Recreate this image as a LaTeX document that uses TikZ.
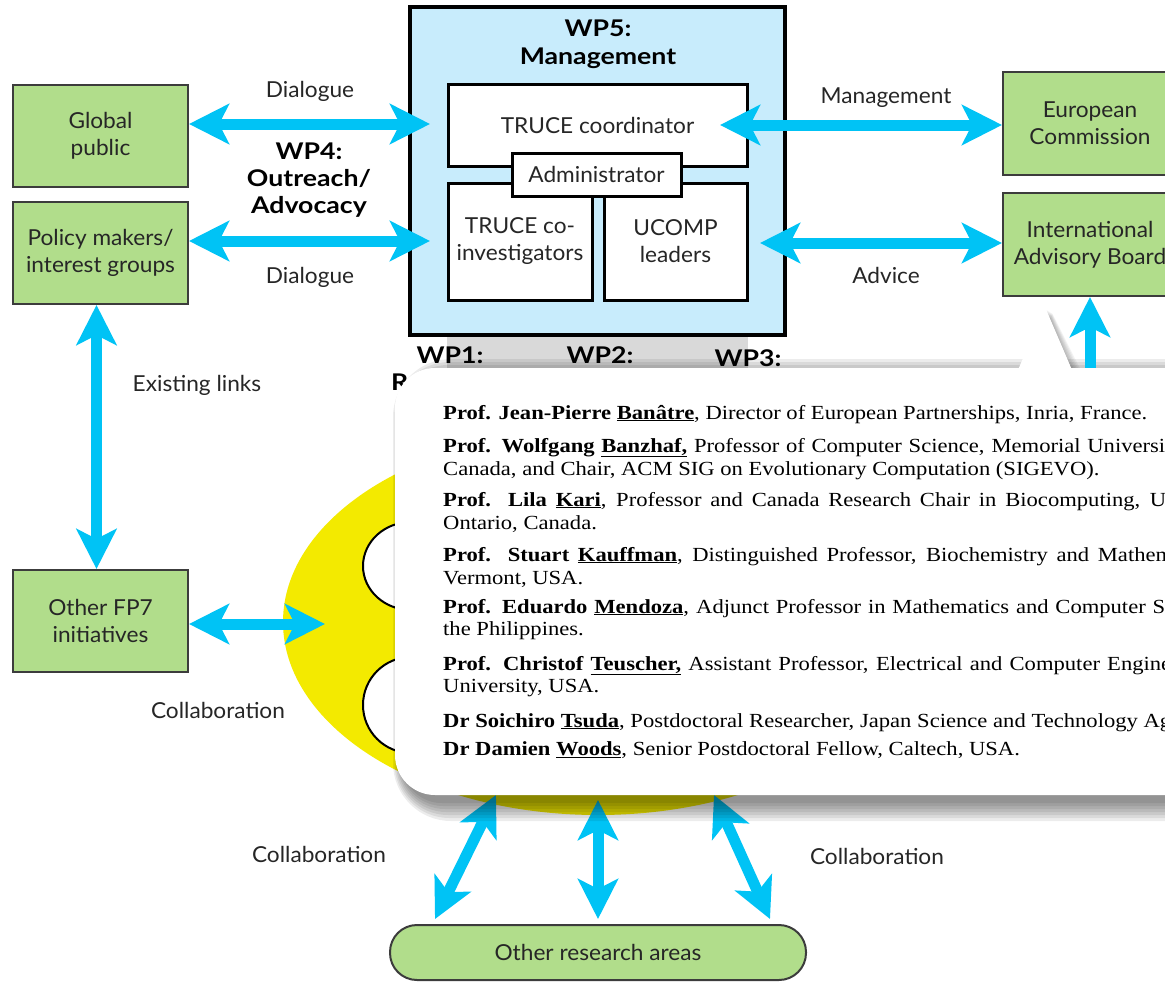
\documentclass[tikz,border=0pt]{standalone}
\usepackage{fontspec}
\setmainfont{Lato}[FakeStretch=1.03]
\newfontfamily\wpfont{Lato}[FakeStretch=1.16]
\newfontfamily\calloutfont[FakeStretch=1.13]{Liberation Serif}
\usetikzlibrary{arrows.meta,shapes.geometric}
\definecolor{boxgreen}{RGB}{177,221,139}
\definecolor{wpblue}{RGB}{200,236,252}
\definecolor{arrowblue}{RGB}{0,195,245}
\definecolor{wpyellow}{RGB}{243,234,0}
\definecolor{boxline}{RGB}{60,60,60}
\newcommand{\diagsize}{\fontsize{22}{27}\selectfont}
\newcommand{\wpsize}{\wpfont\bfseries\fontsize{23}{27}\selectfont}
\newcommand{\biosize}{\calloutfont\fontsize{20}{23}\selectfont}
\newcommand{\surn}[1]{\underline{#1}}
\newcommand{\jline}[2]{\makebox[#1pt][s]{#2}}
\tikzset{basic/.style={align=center,inner sep=0pt,font=\diagsize,text=black!85}}
\tikzset{greenbox/.style={basic,draw=boxline,line width=2pt,fill=boxgreen,
                          minimum width=175pt,minimum height=102pt}}
\tikzset{whitebox/.style={basic,draw=black,line width=3pt,fill=white}}
\tikzset{lbl/.style={basic,anchor=base}}
\tikzset{wplbl/.style={lbl,font=\wpsize,text=black}}
\tikzset{bio/.style={inner sep=0pt,anchor=base west,font=\biosize}}
\tikzset{biarrow/.style={draw=arrowblue,line width=11pt,
   {Stealth[length=40pt,width=40pt,inset=10pt]}-{Stealth[length=40pt,width=40pt,inset=10pt]}}}
\begin{document}
\begin{tikzpicture}[x=1pt,y=-1pt]
    \useasboundingbox (0,0) rectangle (1165,982);
    \clip (0,0) rectangle (1165,982);
    \fill[white] (0,0) rectangle (1165,982);

    % collaboration area
    \node[ellipse,fill=wpyellow,minimum width=630pt,minimum height=386pt] (yel) at (598,622) {};
    \node[ellipse,draw=black,line width=2pt,fill=white,minimum width=96pt,minimum height=88pt] (wpc1) at (411,566) {};
    \node[ellipse,draw=black,line width=2pt,fill=white,minimum width=96pt,minimum height=96pt] (wpc2) at (411,705) {};

    % research work packages
    \fill[black!15] (447,335) rectangle (748,372);
    \node[wplbl] (wp1) at (450,363) {WP1:};
    \node[wplbl] (wp2) at (600,363) {WP2:};
    \node[wplbl] (wp3) at (748,366) {WP3:};
    \node[wplbl,anchor=base west] (wpr) at (391,390) {R};

    % management
    \node[basic,draw=black,line width=3.5pt,fill=wpblue,minimum width=375pt,minimum height=328pt] (wp5) at (597.5,171) {};
    \node[wplbl] (wp5t) at (598,37) {WP5:};
    \node[wplbl] (wp5m) at (598,65) {Management};
    \node[whitebox,minimum width=299pt,minimum height=81pt] (coord) at (597.5,125.5) {TRUCE coordinator};
    \node[whitebox,minimum width=144pt,minimum height=117pt] (coinv) at (520,241.5) {TRUCE co-\\investigators};
    \node[whitebox,minimum width=143pt,minimum height=117pt] (ucomp) at (675.5,241.5) {UCOMP\\leaders};
    \node[whitebox,minimum width=169pt,minimum height=43pt] (admin) at (596.5,174.5) {Administrator};

    % partners
    \node[greenbox] (gpub) at (100.5,136) {Global\\public};
    \node[greenbox] (policy) at (100.5,253) {Policy makers/\\interest groups};
    \node[greenbox] (fp7) at (100.5,621) {Other FP7\\initiatives};
    \node[greenbox,minimum width=174pt,minimum height=103pt] (ec) at (1090,123.5) {European\\Commission};
    \node[greenbox,minimum width=174pt,minimum height=103pt] (iab) at (1090,244.5) {International\\Advisory Board};
    \node[greenbox,rounded corners=27pt,minimum width=416pt,minimum height=55pt] (ora) at (598,952.5) {Other research areas};

    % arrows
    \coordinate (gpubend) at (430,124);
    \coordinate (polend) at (430,241);
    \coordinate (ecend) at (720,125);
    \coordinate (iabend) at (760,243);
    \coordinate (fp7end) at (325,624);
    \coordinate (iablow) at (1090,720);
    \coordinate (ylw1) at (496,795);
    \coordinate (ylw2) at (598,800);
    \coordinate (ylw3) at (714,795);
    \draw[biarrow] (gpub.east |- gpubend) -- (gpubend);
    \draw[biarrow] (policy.east |- polend) -- (polend);
    \draw[biarrow] (ecend) -- (ec.west |- ecend);
    \draw[biarrow] (iabend) -- (iab.west |- iabend);
    \draw[biarrow] ([xshift=-4pt]policy.south) -- ([xshift=-4pt]fp7.north);
    \draw[biarrow] (fp7.east |- fp7end) -- (fp7end);
    \foreach \c/\dx in {ylw1/-163,ylw2/0,ylw3/172}{%
        \draw[biarrow] (\c) -- ([xshift=\dx pt,yshift=5pt]ora.north);
    }

    % Labels
    \node[lbl] (dlg1) at (310,97) {Dialogue};
    \node[lbl] (dlg2) at (310,283) {Dialogue};
    \node[basic,font=\wpsize,text=black] (wp4) at (309,180) {WP4:\\Outreach/\\Advocacy};
    \node[lbl] (mgmt) at (886,103) {Management};
    \node[lbl] (adv) at (886,283) {Advice};
    \node[lbl] (links) at (197,391) {Existing links};
    \node[lbl] (colla) at (218,718) {Collaboration};
    \node[lbl] (collb) at (319,862) {Collaboration};
    \node[lbl] (collc) at (877,864) {Collaboration};

    % advisory board callout
    \foreach \d in {0,3,...,18}{%
        \fill[black,opacity=0.075,rounded corners=40pt+\d pt] (402-\d*0.5,377-\d) rectangle (1240+\d,803+\d);
        \fill[black,opacity=0.05] (1021,378) -- (1047+\d*0.3,310+\d*0.2) -- (1074+\d*0.6,378) -- cycle;
    }
    \draw[biarrow] (iab.south) -- (iablow);
    \fill[white,rounded corners=40pt] (395,368) rectangle (1230,795);
    \fill[white] (1018,370) -- (1045,307) -- (1072,370) -- cycle;

    \node[bio] (l1) at (443,419) {\textbf{Prof. Jean-Pierre \surn{Banâtre}}, Director of European Partnerships, Inria, France.};
    \node[bio] (l2) at (443,452) {\jline{722}{\textbf{Prof. Wolfgang \surn{Banzhaf,}} Professor of Computer Science, Memorial Universi}};
    \node[bio] (l3) at (443,475) {Canada, and Chair, ACM SIG on Evolutionary Computation (SIGEVO).};
    \node[bio] (l4) at (443,506) {\jline{723}{\textbf{Prof. Lila \surn{Kari}}, Professor and Canada Research Chair in Biocomputing, U}};
    \node[bio] (l5) at (443,529) {Ontario, Canada.};
    \node[bio] (l6) at (443,561) {\jline{730}{\textbf{Prof. Stuart \surn{Kauffman}}, Distinguished Professor, Biochemistry and Mathem}};
    \node[bio] (l7) at (443,584) {Vermont, USA.};
    \node[bio] (l8) at (443,613) {\jline{722}{\textbf{Prof. Eduardo \surn{Mendoza}}, Adjunct Professor in Mathematics and Computer S}};
    \node[bio] (l9) at (443,635) {the Philippines.};
    \node[bio] (l10) at (443,670) {\jline{728}{\textbf{Prof. Christof \surn{Teuscher,}} Assistant Professor, Electrical and Computer Engine}};
    \node[bio] (l11) at (443,692) {University, USA.};
    \node[bio] (l12) at (443,727) {\jline{728}{\textbf{Dr Soichiro \surn{Tsuda}}, Postdoctoral Researcher, Japan Science and Technology Ag}};
    \node[bio] (l13) at (443,755) {\textbf{Dr Damien \surn{Woods}}, Senior Postdoctoral Fellow, Caltech, USA.};
\end{tikzpicture}
\end{document}
